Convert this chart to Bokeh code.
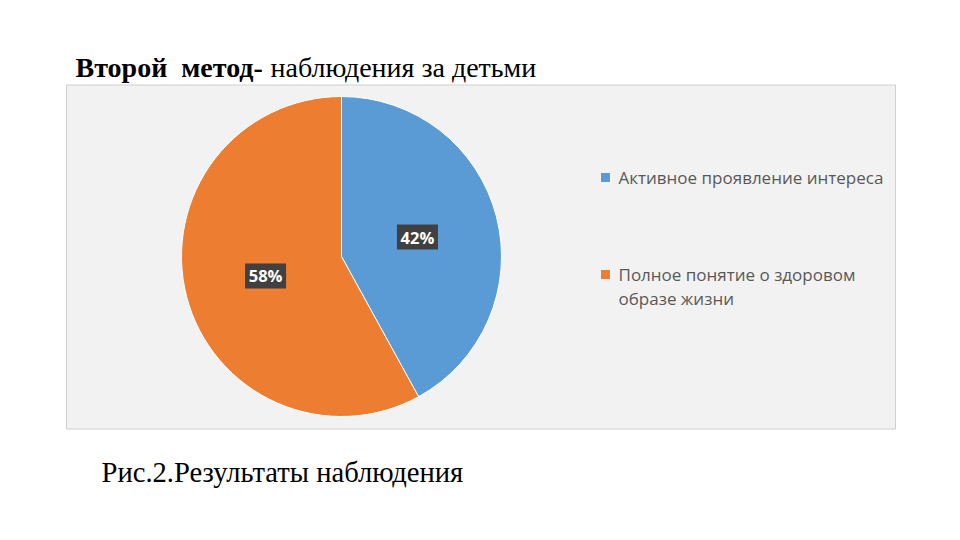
import numpy as np
from bokeh.plotting import figure
from bokeh.models import Range1d, ColumnDataSource
from bokeh.core.properties import value
from bokeh.embed import file_html
from bokeh.resources import INLINE

# ---- data ----
categories = ["Активное проявление интереса", "Полное понятие о здоровом образе жизни"]
legend_lines = [["Активное проявление интереса"], ["Полное понятие о здоровом", "образе жизни"]]
values = [42, 58]
colors = ["#5B9BD5", "#ED7D31"]
title_bold = "Второй\u00a0 метод-"
title_rest = "наблюдения за детьми"
caption = "Рис.2.Результаты наблюдения"

W, H = 944, 524
def Y(py):  # page pixel y -> data y
    return 540 - py

p = figure(frame_width=W, frame_height=H, x_range=Range1d(0, 944), y_range=Range1d(16, 540),
           x_axis_type=None, y_axis_type=None, toolbar_location=None, output_backend="svg",
           min_border=0, outline_line_color=None, background_fill_color="white",
           border_fill_color="white")
p.grid.visible = False

# chart area
p.quad(left=[66], right=[895], top=[Y(84.5)], bottom=[Y(428.5)], fill_color="#F2F2F2",
       line_color="#D0D0D0", line_width=1)

# pie
cx, cy, r = 341, Y(256), 160
fr = np.array(values, dtype=float) / sum(values)
ends = np.pi / 2 - 2 * np.pi * np.cumsum(fr)
starts = np.concatenate([[np.pi / 2], ends[:-1]])
src = ColumnDataSource(dict(start=starts, end=ends, color=colors))
p.wedge(x=cx, y=cy, radius=r, start_angle="start", end_angle="end", direction="clock",
        fill_color="color", line_color="white", line_width=1, source=src)

# data labels
mids = (starts + ends) / 2
lr = r * 0.49
lx = cx + lr * np.cos(mids)
ly = cy + lr * np.sin(mids)
labels = [f"{v}%" for v in values]
p.rect(x=lx, y=ly, width=41, height=25, fill_color="#404040", line_color=None)
p.text(x=lx, y=ly, text=labels, text_color="white", text_font=value("Open Sans"),
       text_font_size="16.5px", text_font_style="bold", text_align="center", text_baseline="middle")

# legend
leg_y = [177, 274]
for i, lines in enumerate(legend_lines):
    p.rect(x=[605], y=[Y(leg_y[i])], width=9, height=9, fill_color=colors[i], line_color=None)
    p.text(x=[618] * len(lines), y=[Y(leg_y[i] + 24 * k) for k in range(len(lines))], text=lines,
           text_color="#595959", text_font=value("Open Sans"), text_font_size="17px",
           text_align="left", text_baseline="middle")

# title
p.text(x=[75], y=[Y(67)], text=[title_bold], text_font=value("Liberation Serif"),
       text_font_style="bold", text_font_size="28px", text_color="black",
       text_align="left", text_baseline="middle")
p.text(x=[270], y=[Y(67)], text=[title_rest], text_font=value("Liberation Serif"),
       text_font_size="28px", text_color="black", text_align="left", text_baseline="middle")

# caption
p.text(x=[101], y=[Y(472)], text=[caption], text_font=value("Liberation Serif"),
       text_font_size="28.6px", text_color="black", text_align="left", text_baseline="middle")

open("out.html", "w").write(file_html(p, INLINE))
